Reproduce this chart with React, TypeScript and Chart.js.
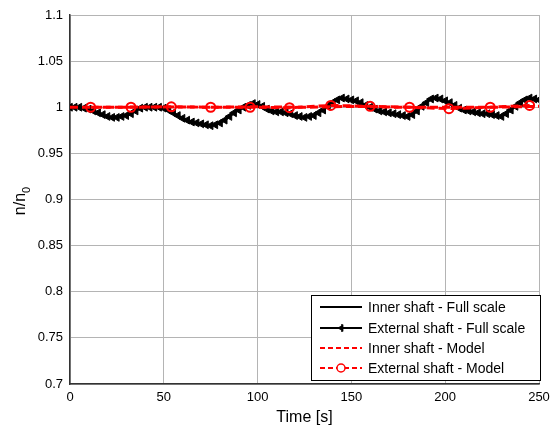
import { useEffect, useRef } from "react";
import { Chart, registerables } from "chart.js";

Chart.register(...registerables);

const timeFull = [
  0, 2.5, 5, 7.5, 10, 12.5, 15, 17.5, 20, 22.5, 25, 27.5, 30, 32.5, 35, 37.5, 40, 42.5, 45, 47.5,
  50, 52.5, 55, 57.5, 60, 62.5, 65, 67.5, 70, 72.5, 75, 77.5, 80, 82.5, 85, 87.5, 90, 92.5, 95, 97.5,
  100, 102.5, 105, 107.5, 110, 112.5, 115, 117.5, 120, 122.5, 125, 127.5, 130, 132.5, 135, 137.5, 140, 142.5, 145, 147.5,
  150, 152.5, 155, 157.5, 160, 162.5, 165, 167.5, 170, 172.5, 175, 177.5, 180, 182.5, 185, 187.5, 190, 192.5, 195, 197.5,
  200, 202.5, 205, 207.5, 210, 212.5, 215, 217.5, 220, 222.5, 225, 227.5, 230, 232.5, 235, 237.5, 240, 242.5, 245, 247.5, 250,
];

const externalFull = [
  1.0, 1.0, 1.0, 0.999, 0.998, 0.996, 0.994, 0.992, 0.99, 0.989, 0.989, 0.99, 0.991, 0.993, 0.996, 0.999, 1.0, 1.0, 1.0, 1.0,
  0.999, 0.997, 0.994, 0.991, 0.988, 0.986, 0.984, 0.983, 0.982, 0.981, 0.98, 0.981, 0.983, 0.986, 0.99, 0.994, 0.997, 1.0, 1.002, 1.004,
  1.003, 1.001, 0.998, 0.996, 0.995, 0.995, 0.994, 0.993, 0.991, 0.99, 0.989, 0.99, 0.991, 0.994, 0.997, 1.001, 1.005, 1.008, 1.01, 1.009,
  1.008, 1.007, 1.005, 1.002, 1.0, 0.998, 0.996, 0.995, 0.994, 0.993, 0.992, 0.991, 0.99, 0.992, 0.996, 1.001, 1.005, 1.009, 1.01, 1.009,
  1.007, 1.005, 1.002, 0.999, 0.997, 0.996, 0.995, 0.994, 0.993, 0.993, 0.992, 0.991, 0.99, 0.993, 0.997, 1.001, 1.005, 1.008, 1.01, 1.009, 1.008,
];

const innerFull = [
  1.0, 1.0, 1.0, 0.999, 0.998, 0.996, 0.994, 0.992, 0.99, 0.989, 0.989, 0.99, 0.991, 0.993, 0.996, 0.999, 1.0, 1.0, 1.0, 1.0,
  0.999, 0.997, 0.994, 0.991, 0.988, 0.986, 0.984, 0.983, 0.982, 0.981, 0.98, 0.981, 0.983, 0.986, 0.99, 0.994, 0.997, 1.0, 1.002, 1.004,
  1.003, 1.001, 0.998, 0.996, 0.995, 0.995, 0.994, 0.993, 0.991, 0.99, 0.989, 0.99, 0.991, 0.994, 0.997, 1.001, 1.005, 1.008, 1.01, 1.009,
  1.008, 1.007, 1.005, 1.002, 1.0, 0.998, 0.996, 0.995, 0.994, 0.993, 0.992, 0.991, 0.99, 0.992, 0.996, 1.001, 1.005, 1.009, 1.01, 1.009,
  1.007, 1.005, 1.002, 0.999, 0.997, 0.996, 0.995, 0.994, 0.993, 0.993, 0.992, 0.991, 0.99, 0.993, 0.997, 1.001, 1.005, 1.008, 1.01, 1.009, 1.008,
];

const timeInnerModel = [0, 25, 50, 75, 100, 125, 150, 175, 200, 225, 250];
const innerModel = [1.0, 1.0, 1.0005, 1.0, 1.0005, 1.0, 1.001, 1.0, 1.0, 1.0, 1.001];

const timeExternalModel = [11, 32.5, 54, 75, 96, 117, 139, 160, 181, 202, 224, 245];
const externalModel = [1.0, 1.0, 1.0005, 1.0, 1.0, 0.9995, 1.002, 1.001, 1.0, 0.9985, 1.0, 1.002];

const xTicks = [0, 50, 100, 150, 200, 250];
const yMin = 0.7;
const yMax = 1.1;
const yStep = 0.05;

const legendLabels = [
  "Inner shaft - Full scale",
  "External shaft - Full scale",
  "Inner shaft - Model",
  "External shaft - Model",
];

const FONT = "'Liberation Sans', Arial, sans-serif";

function toPoints(xs: number[], ys: number[]) {
  return xs.map((x, i) => ({ x, y: ys[i] }));
}

function drawTriangleLeft(ctx: CanvasRenderingContext2D, x: number, y: number, r: number) {
  ctx.beginPath();
  ctx.moveTo(x - r, y);
  ctx.lineTo(x + r * 0.6, y - r * 0.9);
  ctx.lineTo(x + r * 0.6, y + r * 0.9);
  ctx.closePath();
  ctx.fill();
}

const overlayPlugin = {
  id: "overlay",
  afterDraw(chart: any) {
    const ctx: CanvasRenderingContext2D = chart.ctx;
    const area = chart.chartArea;
    ctx.save();
    ctx.fillStyle = "#000";
    ctx.font = `16px ${FONT}`;
    ctx.textAlign = "center";
    ctx.textBaseline = "middle";
    ctx.fillText("Time [s]", (area.left + area.right) / 2, 418);

    ctx.save();
    ctx.translate(20, 201);
    ctx.rotate(-Math.PI / 2);
    ctx.font = `16px ${FONT}`;
    ctx.textAlign = "left";
    ctx.textBaseline = "alphabetic";
    const main = "n/n";
    const w = ctx.measureText(main).width;
    ctx.font = `11px ${FONT}`;
    const ws = ctx.measureText("0").width;
    const start = -(w + ws) / 2;
    ctx.font = `16px ${FONT}`;
    ctx.fillText(main, start, 5);
    ctx.font = `11px ${FONT}`;
    ctx.fillText("0", start + w, 10);
    ctx.restore();

    // legend
    const bx = 311, by = 295, bw = 229, bh = 85;
    ctx.fillStyle = "#fff";
    ctx.fillRect(bx, by, bw, bh);
    ctx.strokeStyle = "#000";
    ctx.lineWidth = 1;
    ctx.strokeRect(bx + 0.5, by + 0.5, bw, bh);
    const rows = [307, 328, 348, 368];
    const x1 = 320, x2 = 362, xc = 341;
    rows.forEach((ry, i) => {
      ctx.save();
      if (i < 2) {
        ctx.strokeStyle = "#000";
        ctx.lineWidth = 2;
        ctx.setLineDash([]);
      } else {
        ctx.strokeStyle = "#ff0000";
        ctx.lineWidth = 2;
        ctx.setLineDash([5, 3]);
      }
      ctx.beginPath();
      ctx.moveTo(x1, ry);
      ctx.lineTo(x2, ry);
      ctx.stroke();
      ctx.setLineDash([]);
      if (i === 1) {
        ctx.fillStyle = "#000";
        drawTriangleLeft(ctx, xc, ry, 4);
        ctx.lineWidth = 1.5;
        ctx.beginPath();
        ctx.moveTo(xc + 1, ry - 4);
        ctx.lineTo(xc + 1, ry + 4);
        ctx.stroke();
      }
      if (i === 3) {
        ctx.lineWidth = 1.5;
        ctx.fillStyle = "#fff";
        ctx.beginPath();
        ctx.arc(xc, ry, 4, 0, Math.PI * 2);
        ctx.fill();
        ctx.stroke();
      }
      ctx.restore();
      ctx.fillStyle = "#000";
      ctx.font = `14px ${FONT}`;
      ctx.textAlign = "left";
      ctx.textBaseline = "middle";
      ctx.fillText(legendLabels[i], 368, ry + 1);
    });
    ctx.restore();
  },
};

export default function App() {
  const ref = useRef<HTMLCanvasElement | null>(null);

  useEffect(() => {
    if (!ref.current) return;
    const chart = new Chart(ref.current, {
      type: "line",
      data: {
        datasets: [
          {
            label: legendLabels[0],
            data: toPoints(timeFull, innerFull),
            borderColor: "#000",
            borderWidth: 1.5,
            pointRadius: 0,
            tension: 0,
            order: 4,
          },
          {
            label: legendLabels[1],
            data: toPoints(timeFull, externalFull),
            borderColor: "#000",
            backgroundColor: "#000",
            borderWidth: 2.5,
            pointStyle: "triangle",
            rotation: -90,
            pointRadius: 4.5,
            pointBorderWidth: 1,
            tension: 0,
            order: 3,
          },
          {
            label: legendLabels[2],
            data: toPoints(timeInnerModel, innerModel),
            borderColor: "#ff0000",
            borderWidth: 3,
            borderDash: [8, 4],
            pointRadius: 0,
            tension: 0,
            order: 2,
          },
          {
            label: legendLabels[3],
            data: toPoints(timeExternalModel, externalModel),
            borderColor: "#ff0000",
            backgroundColor: "rgba(0,0,0,0)",
            borderWidth: 3,
            borderDash: [8, 4],
            pointStyle: "circle",
            pointRadius: 4.5,
            pointBorderWidth: 2,
            tension: 0,
            order: 1,
          },
        ],
      },
      options: {
        animation: false,
        responsive: false,
        maintainAspectRatio: false,
        layout: { padding: { top: 15, right: 13, left: 0, bottom: 0 } },
        plugins: {
          legend: { display: false },
          tooltip: { enabled: false },
        },
        scales: {
          x: {
            type: "linear",
            min: 0,
            max: 250,
            afterBuildTicks: (scale: any) => {
              scale.ticks = xTicks.map((v) => ({ value: v }));
            },
            afterFit: (scale: any) => {
              scale.height = 46;
              scale.paddingLeft = 0;
              scale.paddingRight = 0;
            },
            ticks: {
              color: "#000",
              font: { family: FONT, size: 13 },
              padding: 6,
              maxRotation: 0,
            },
            grid: { color: "#b4b4b4", lineWidth: 1, drawTicks: false },
            border: { color: "#333", width: 1.5 },
          },
          y: {
            type: "linear",
            min: yMin,
            max: yMax,
            ticks: {
              stepSize: yStep,
              color: "#000",
              font: { family: FONT, size: 13 },
              padding: 7,
              callback: (v: any) => String(Number(Number(v).toFixed(2))),
            },
            afterFit: (scale: any) => {
              scale.width = 70;
              scale.paddingTop = 0;
              scale.paddingBottom = 0;
            },
            grid: { color: "#b4b4b4", lineWidth: 1, drawTicks: false },
            border: { color: "#333", width: 1.5 },
          },
        },
      },
      plugins: [overlayPlugin],
    } as any);
    return () => chart.destroy();
  }, []);

  return (
    <div style={{ position: "fixed", left: 0, top: 0, width: 552, height: 430, background: "#fff" }}>
      <canvas ref={ref} width={552} height={430} style={{ width: 552, height: 430, display: "block" }} />
    </div>
  );
}
